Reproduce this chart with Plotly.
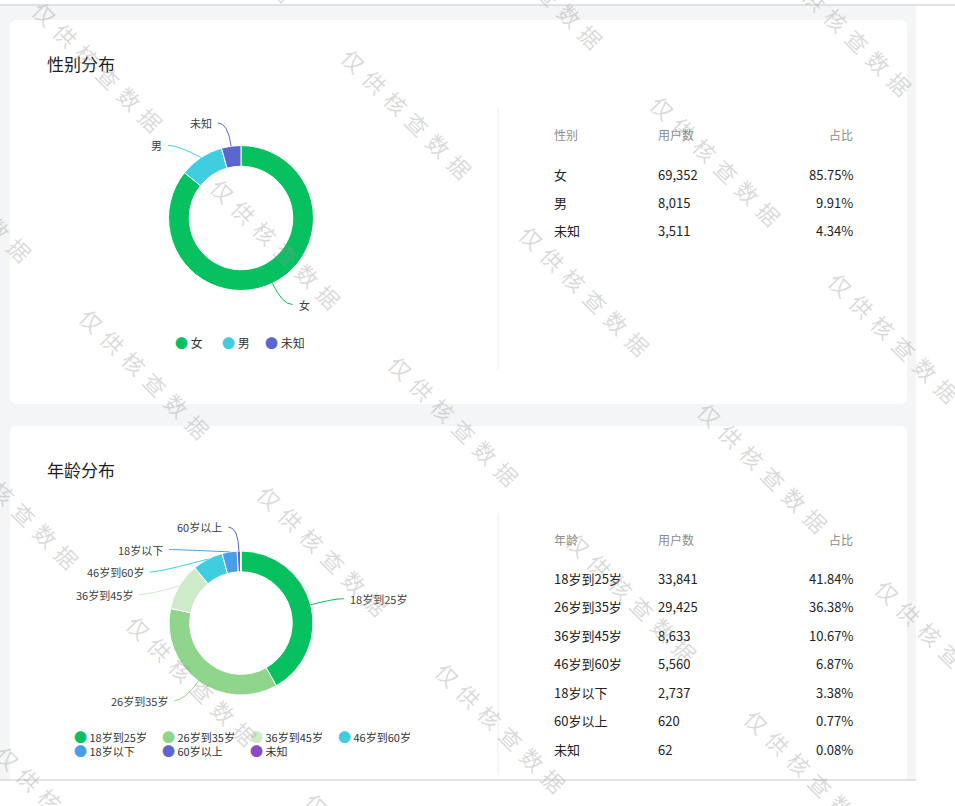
import math
import plotly.graph_objects as go

W, H = 955, 806
FONT = "Noto Sans CJK SC"

# ---------------- data ----------------
gender_labels = ["女", "男", "未知"]
gender_counts = [69352, 8015, 3511]
gender_share = ["85.75%", "9.91%", "4.34%"]
gender_colors = ["#07c160", "#3fcde0", "#5b67cf"]

age_labels = ["18岁到25岁", "26岁到35岁", "36岁到45岁", "46岁到60岁", "18岁以下", "60岁以上", "未知"]
age_counts = [33841, 29425, 8633, 5560, 2737, 620, 62]
age_share = ["41.84%", "36.38%", "10.67%", "6.87%", "3.38%", "0.77%", "0.08%"]
age_colors = ["#07c160", "#8fd68c", "#cdebc9", "#3fcde0", "#4a9de8", "#5b67cf", "#8a4bc6"]
age_label_shown = [True, True, True, True, True, True, False]

gender_headers = ["性别", "用户数", "占比"]
age_headers = ["年龄", "用户数", "占比"]

# ---------------- helpers ----------------
def X(px):
    return px / W


def Y(py):
    return 1 - py / H


def rounded_rect(x0, y0, x1, y1, r, round_bottom=True):
    p = f"M {X(x0 + r)},{Y(y0)} L {X(x1 - r)},{Y(y0)} Q {X(x1)},{Y(y0)} {X(x1)},{Y(y0 + r)} "
    if round_bottom:
        p += (f"L {X(x1)},{Y(y1 - r)} Q {X(x1)},{Y(y1)} {X(x1 - r)},{Y(y1)} "
              f"L {X(x0 + r)},{Y(y1)} Q {X(x0)},{Y(y1)} {X(x0)},{Y(y1 - r)} ")
    else:
        p += f"L {X(x1)},{Y(y1)} L {X(x0)},{Y(y1)} "
    p += f"L {X(x0)},{Y(y0 + r)} Q {X(x0)},{Y(y0)} {X(x0 + r)},{Y(y0)} Z"
    return p


fig = go.Figure()
shapes = []
annotations = []

# page background & cards
shapes.append(dict(type="rect", xref="paper", yref="paper", x0=X(0), x1=X(916), y0=Y(780), y1=Y(5),
                   fillcolor="#f4f5f7", line=dict(width=0), layer="below"))
shapes.append(dict(type="line", xref="paper", yref="paper", x0=0, x1=1, y0=Y(5), y1=Y(5),
                   line=dict(color="#d9d9d9", width=1.5), layer="below"))
shapes.append(dict(type="path", xref="paper", yref="paper", path=rounded_rect(10, 20, 907, 404, 7),
                   fillcolor="#ffffff", line=dict(width=0), layer="below"))
shapes.append(dict(type="path", xref="paper", yref="paper", path=rounded_rect(10, 426, 907, 780, 7, False),
                   fillcolor="#ffffff", line=dict(width=0), layer="below"))
shapes.append(dict(type="line", xref="paper", yref="paper", x0=X(0), x1=X(916), y0=Y(780), y1=Y(780),
                   line=dict(color="#c8c8c8", width=1), layer="below"))
# dividers
for (ya, yb) in [(108, 370), (513, 775)]:
    shapes.append(dict(type="line", xref="paper", yref="paper", x0=X(498), x1=X(498), y0=Y(ya), y1=Y(yb),
                       line=dict(color="#ebebeb", width=1), layer="below"))


def add_donut(labels, values, colors, shown, cx, cy, r, hole, title, title_y, legend_rows, legend_size):
    fig.add_trace(go.Pie(
        labels=labels, values=values, sort=False, direction="clockwise", rotation=0,
        hole=hole, textinfo="none", hoverinfo="skip", showlegend=False,
        marker=dict(colors=colors, line=dict(color="#ffffff", width=1)),
        domain=dict(x=[X(cx - r), X(cx + r)], y=[Y(cy + r), Y(cy - r)]),
    ))
    annotations.append(dict(text=title, x=X(45), y=Y(title_y), xref="paper", yref="paper",
                            xanchor="left", yanchor="middle", showarrow=False,
                            font=dict(family=FONT, size=17, color="#1f1f1f")))
    # outside labels with leader lines (positions derived from slice angles)
    total = float(sum(values))
    R = 96.0
    gap = 22.5
    cum = 0.0
    items = []
    for lab, v, col, sh in zip(labels, values, colors, shown):
        mid = (cum + v / 2.0) / total * 2 * math.pi
        cum += v
        if not sh:
            continue
        side = 1 if math.sin(mid) >= 0 else -1
        items.append(dict(lab=lab, col=col, th=mid, side=side, y=cy - R * math.cos(mid)))
    for s in (1, -1):
        grp = sorted([it for it in items if it["side"] == s], key=lambda d: d["y"])
        prev = None
        for it in grp:
            if prev is not None and it["y"] < prev + gap:
                it["y"] = prev + gap
            prev = it["y"]
    for it in items:
        dy = it["y"] - cy
        dx = math.sqrt(max(R * R - dy * dy, 0.0))
        px2 = cx + it["side"] * dx
        py2 = it["y"]
        ex = cx + r * math.sin(it["th"])
        ey = cy - r * math.cos(it["th"])
        px3 = px2 + it["side"] * 10
        path = f"M {X(ex)},{Y(ey)} Q {X(px2)},{Y(py2)} {X(px3)},{Y(py2)}"
        shapes.append(dict(type="path", xref="paper", yref="paper", path=path,
                           line=dict(color=it["col"], width=1)))
        annotations.append(dict(text=it["lab"], x=X(px3 + it["side"] * 4), y=Y(py2),
                                xref="paper", yref="paper",
                                xanchor="left" if it["side"] > 0 else "right", yanchor="middle",
                                showarrow=False, font=dict(family=FONT, size=11, color="#404040")))
    # legend
    for (items_row, ly, xs) in legend_rows:
        for (lab, col), lx in zip(items_row, xs):
            annotations.append(dict(
                text=f'<span style="color:{col};font-size:13px">●</span> {lab}',
                x=X(lx), y=Y(ly), xref="paper", yref="paper", xanchor="left", yanchor="middle",
                height=13, valign="middle", borderpad=0,
                showarrow=False, font=dict(family=FONT, size=legend_size, color="#333333")))


def add_table(headers, labels, counts, shares, y_head, y_first, pitch):
    cols = [(552, "left"), (656, "left"), (855, "right")]
    for h, (cx_, anc) in zip(headers, cols):
        annotations.append(dict(text=h, x=X(cx_), y=Y(y_head), xref="paper", yref="paper",
                                xanchor=anc, yanchor="middle", showarrow=False,
                                font=dict(family=FONT, size=12, color="#8c8c8c")))
    for i, (lab, c, s) in enumerate(zip(labels, counts, shares)):
        yy = y_first + i * pitch
        for val, (cx_, anc) in zip([lab, f"{c:,}", s], cols):
            annotations.append(dict(text=val, x=X(cx_), y=Y(yy), xref="paper", yref="paper",
                                    xanchor=anc, yanchor="middle", showarrow=False,
                                    font=dict(family=FONT, size=13, color="#222222")))


# gender
g_items = list(zip(gender_labels, gender_colors))
add_donut(gender_labels, gender_counts, gender_colors, [True] * 3, 241, 218, 72.5, 0.714,
          "性别分布", 64, [(g_items, 343, [174, 221, 264])], 12)
add_table(gender_headers, gender_labels, gender_counts, gender_share, 134, 174, 28.2)

# age
a_items = list(zip(age_labels, age_colors))
add_donut(age_labels, age_counts, age_colors, age_label_shown, 241, 623, 72, 0.712,
          "年龄分布", 469,
          [(a_items[:4], 736, [73, 161, 249, 337]), (a_items[4:], 750.5, [73, 161, 249])], 11)
add_table(age_headers, age_labels, age_counts, age_share, 539, 578, 28.5)

# watermark lattice
ax, ay = 101, 69
a = (309, 47)
b = (47, 307)
centers = []
for i in range(-3, 5):
    for j in range(-3, 5):
        centers.append((ax + i * a[0] + j * b[0], ay + i * a[1] + j * b[1]))
        centers.append((ax + (i + .5) * a[0] + (j + .5) * b[0], ay + (i + .5) * a[1] + (j + .5) * b[1]))
for (wx, wy) in centers:
    if -120 < wx < W + 120 and -120 < wy < H + 120:
        annotations.append(dict(
            text='<span style="letter-spacing:8px">仅供核查数据</span>',
            x=X(wx), y=Y(wy), xref="paper", yref="paper", xanchor="center", yanchor="middle",
            textangle=45, showarrow=False,
            font=dict(family=FONT, size=22, color="rgba(150,150,150,0.36)")))

fig.update_layout(
    width=W, height=H, margin=dict(l=0, r=0, t=0, b=0),
    paper_bgcolor="#ffffff", plot_bgcolor="#ffffff",
    shapes=shapes, annotations=annotations, showlegend=False,
    font=dict(family=FONT),
)
fig.write_html("out.html", config={"displayModeBar": False},
               post_script="document.body.style.margin='0';document.body.style.overflow='hidden';")
